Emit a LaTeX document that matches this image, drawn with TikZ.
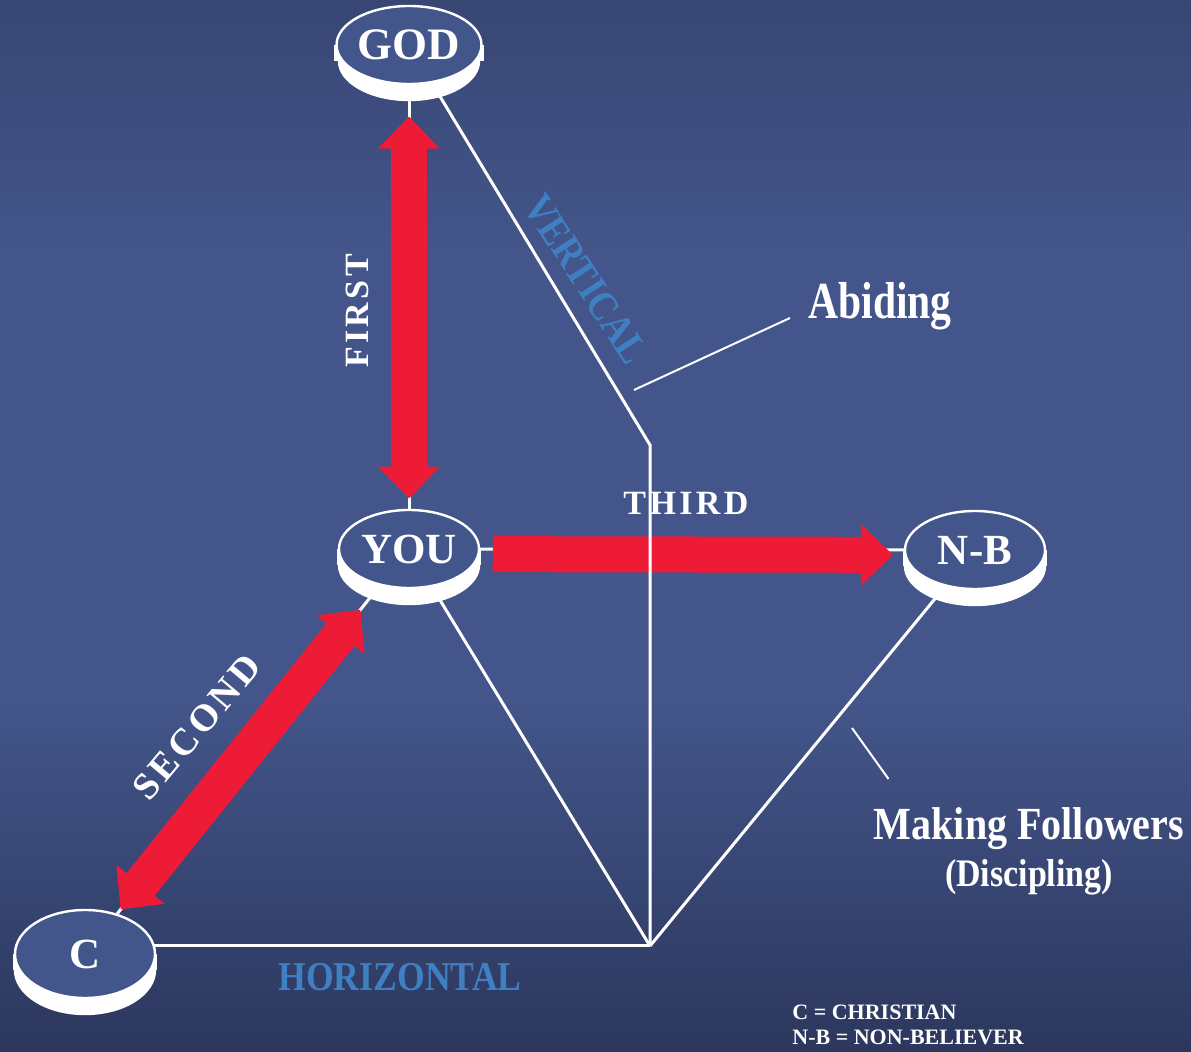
\documentclass[tikz,border=0pt]{standalone}
\usepackage{fontspec}
\setmainfont{Liberation Serif}
\newfontfamily\condserif[FakeStretch=0.87]{Liberation Serif}
\newfontfamily\narrowserif[FakeStretch=0.8]{Liberation Serif}
\usetikzlibrary{arrows.meta,calc,shapes.geometric}
\definecolor{bgtop}{HTML}{384673}
\definecolor{bgmid}{HTML}{43558A}
\definecolor{bgbot}{HTML}{2C375D}
\definecolor{face}{HTML}{43568B}
\definecolor{redarrow}{HTML}{EE1B36}
\definecolor{ltblue}{HTML}{3E80C2}
\pgfdeclarelayer{bglayer}
\pgfdeclarelayer{lines}
\pgfdeclarelayer{side}
\pgfdeclarelayer{front}
\pgfsetlayers{bglayer,lines,side,main,front}
\tikzset{
  disk/.style={ellipse, fill=face, draw=white, line width=1.2pt,
    minimum width=70pt, minimum height=39pt, inner sep=0pt, text=white,
    font=\fontsize{21.5}{25}\selectfont\bfseries},
  wline/.style={draw=white, line width=1.5pt, line join=miter},
  thinline/.style={draw=white, line width=1pt},
  bigarrow/.style={draw=redarrow, line width=18pt},
  bigtip/.tip={Triangle[width=30pt,length=16pt]},
  armlabel/.style={text=white, inner sep=0pt,
    font=\fontsize{17}{20}\selectfont\bfseries\addfontfeature{LetterSpace=10}},
  axislabel/.style={text=ltblue, inner sep=0pt},
  bigwhite/.style={text=white, inner sep=0pt},
  legend/.style={text=white, inner sep=0pt, font=\fontsize{11}{13}\selectfont\bfseries}
}
\begin{document}
\begin{tikzpicture}[x=0.5pt,y=-0.5pt]
\begin{pgfonlayer}{bglayer}
  \path[use as bounding box] (0,0) rectangle (1191,1052);
  \shade[top color=bgtop,bottom color=bgmid] (0,0) rectangle (1191,252);
  \fill[bgmid] (0,250) rectangle (1191,702);
  \shade[top color=bgmid,bottom color=bgbot] (0,700) rectangle (1191,1052);
\end{pgfonlayer}

% disks
\node[disk, font=\fontsize{22.5}{26}\selectfont\bfseries] (god) at (409,45) {GOD};
\node[disk] (you) at (409,549) {YOU};
\node[disk] (nb) at (975,550) {N-B};
\node[disk, minimum height=44pt] (c) at (85,954) {C};

\begin{pgfonlayer}{side}
  \foreach \n/\r in {god/20.1pt, you/20.1pt, nb/20.1pt, c/22.6pt} {
    \fill[white] ($(\n)+(0,16)$) ellipse [x radius=35.6pt, y radius=\r];
    \fill[white] ($(\n.west)+(-1.2,0)$) rectangle ($(\n.east)+(1.2,16)$);
  }
\end{pgfonlayer}

% connector lines
\coordinate (bend) at (650,445);
\coordinate (junc) at (650,946);
\begin{pgfonlayer}{lines}
  \draw[wline] (god) -- (you);
  \draw[wline] (you) -- (c);
  \draw[wline] (you) -- (nb);
  \draw[wline] (you) -- (junc);
  \draw[wline] (nb) -- (junc);
  \draw[wline] (c.center |- junc) -- (junc);
\end{pgfonlayer}

% red arrows
\draw[bigarrow, bigtip-bigtip] ($(god)!0.142!(you)$) -- ($(god)!0.9!(you)$);
\draw[bigarrow, bigtip-bigtip] ($(c)!0.11!(you)$) -- ($(c)!0.85!(you)$);
\draw[bigarrow, -bigtip] ($(you)!0.148!(nb)+(0,5)$) -- ($(you)!0.855!(nb)+(0,5)$);

\begin{pgfonlayer}{front}
  \draw[wline] (god) -- (bend) -- (junc);
\end{pgfonlayer}

% arm labels
\node[armlabel, rotate=90] (first) at (357,311) {FIRST};
\node[armlabel] (third) at (686,503) {THIRD};
\node[armlabel, rotate=50, font=\fontsize{19}{22}\selectfont\bfseries\addfontfeature{LetterSpace=10}] (second) at (197,727) {SECOND};

% axis labels
\node[axislabel, rotate=-57, font=\fontsize{21}{24}\selectfont\condserif\bfseries] (vert) at (586,279) {VERTICAL};
\node[axislabel, font=\fontsize{20.5}{24}\selectfont\condserif\bfseries] (horiz) at (400,977) {HORIZONTAL};

% side labels
\node[bigwhite, anchor=base west, font=\fontsize{26}{30}\selectfont\narrowserif\bfseries] (abiding) at (808,319) {Abiding};
\node[bigwhite, anchor=base, font=\fontsize{23}{27}\selectfont\condserif\bfseries] (making) at (1029,840) {Making Followers};
\node[bigwhite, anchor=base, font=\fontsize{19.5}{23}\selectfont\condserif\bfseries] (disc) at (1029,887) {(Discipling)};

\coordinate (abl) at (634,390);
\draw[thinline] (abl) -- ($(abiding.base west)+(-18,-1)$);
\coordinate (mfl) at (852,728);
\draw[thinline] (mfl) -- ($(making.base west)+(15,-61)$);

% legend
\node[legend, anchor=base west] (leg1) at (792,1020) {C = CHRISTIAN};
\node[legend, anchor=base west] (leg2) at (792,1045) {N-B = NON-BELIEVER};
\end{tikzpicture}
\end{document}
